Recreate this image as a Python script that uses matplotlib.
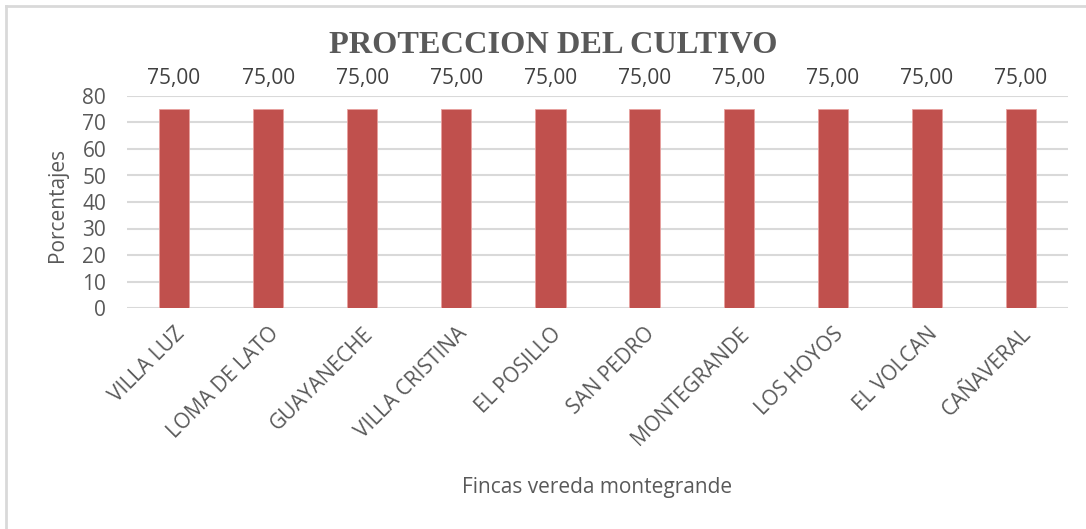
import matplotlib.pyplot as plt
from matplotlib.lines import Line2D

categories = ["VILLA LUZ", "LOMA DE LATO", "GUAYANECHE", "VILLA CRISTINA", "EL POSILLO",
              "SAN PEDRO", "MONTEGRANDE", "LOS HOYOS", "EL VOLCAN", "CAÑAVERAL"]
values = [75, 75, 75, 75, 75, 75, 75, 75, 75, 75]
yticks = [0, 10, 20, 30, 40, 50, 60, 70, 80]

W, H = 1086, 529
fig = plt.figure(figsize=(W/100, H/100), dpi=100)
ax = fig.add_axes([127/W, 1-308/H, (1068-127)/W, (308-96)/H])

font = ["Open Sans", "DejaVu Sans"]
txtc = "#595959"
x = range(len(categories))
bars = ax.bar(x, values, width=0.32, color="#C0504D", edgecolor="#E8A09E", linewidth=0.6, zorder=3)
ax.set_xlim(-0.5, len(categories)-0.5)
ax.set_ylim(0, 80)
ax.set_yticks(yticks)
ax.set_yticklabels([str(v) for v in yticks], family=font, fontsize=15, color=txtc)
ax.set_xticks(list(x))
ax.set_xticklabels(categories, rotation=45, ha="right", rotation_mode="anchor",
                   family=font, fontsize=15, color=txtc)
ax.tick_params(axis="both", length=0)
ax.tick_params(axis="x", pad=11)
ax.tick_params(axis="y", pad=15)
ax.grid(axis="y", color="#D9D9D9", linewidth=1.5, zorder=0)
for s in ax.spines.values():
    s.set_visible(False)

for b, v in zip(bars, values):
    ax.annotate(f"{v:.2f}".replace(".", ","), (b.get_x()+b.get_width()/2, 80),
                xytext=(0, 5), textcoords="offset points", ha="center", va="bottom",
                family=font, fontsize=15, color="#404040")

fig.text(57/W, 1-205/H, "Porcentajes", ha="center", va="center", rotation=90,
         family=font, fontsize=15, color=txtc)
fig.text(597/W, 1-487/H, "Fincas vereda montegrande", ha="center", va="center",
         family=font, fontsize=15, color=txtc)
fig.text(553/W, 1-46/H, "PROTECCION DEL CULTIVO", ha="center", va="center",
         family="Liberation Serif", fontweight="bold", fontsize=23.3, color=txtc)

fig.add_artist(Line2D([6/W, 6/W], [0, 1-6/H], transform=fig.transFigure, color="#D9D9D9", linewidth=2))
fig.add_artist(Line2D([6/W, 1], [1-6/H, 1-6/H], transform=fig.transFigure, color="#D9D9D9", linewidth=2))

fig.savefig("out.png", dpi=100)
